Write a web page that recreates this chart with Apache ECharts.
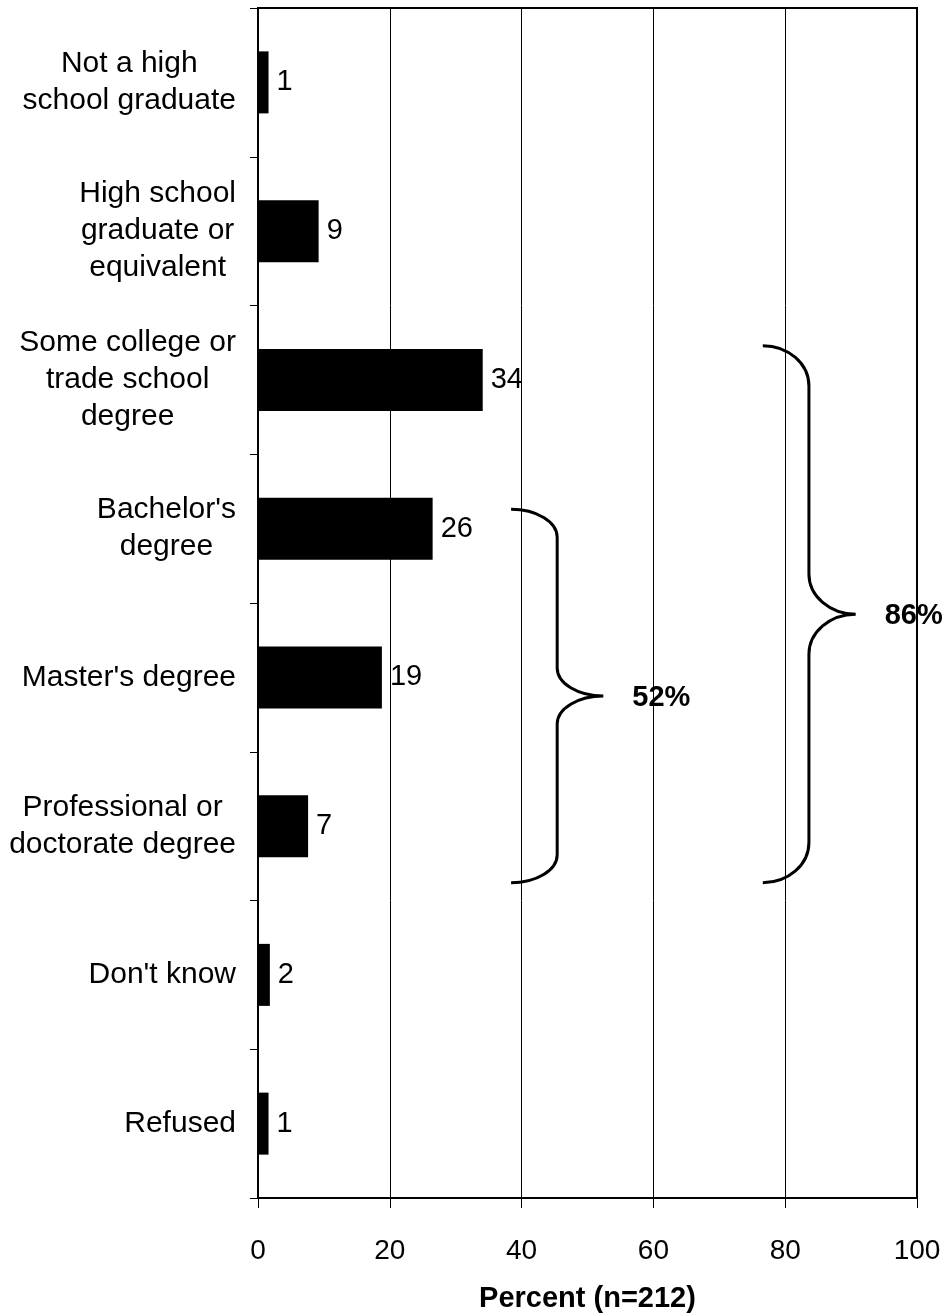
<!DOCTYPE html>
<html>
<head>
<meta charset="utf-8">
<script src="https://cdn.jsdelivr.net/npm/echarts@6/dist/echarts.min.js"></script>
<style>
  html, body { margin: 0; padding: 0; background: #fff; }
  #chart { width: 949px; height: 1313px; }
</style>
</head>
<body>
<div id="chart"></div>
<script>
// ---- Data ----
var categories = [
  'Not a high\nschool graduate',
  'High school\ngraduate or\nequivalent',
  'Some college or\ntrade school\ndegree',
  "Bachelor's\ndegree",
  "Master's degree",
  'Professional or\ndoctorate degree',
  "Don't know",
  'Refused'
];
var values = [1.6, 9.2, 34.1, 26.5, 18.8, 7.6, 1.8, 1.6];
var valueLabels = ['1', '9', '34', '26', '19', '7', '2', '1'];
var xTicks = [0, 20, 40, 60, 80, 100];
var xTitle = 'Percent (n=212)';

// Braces: [x of tips, x of spine, x of point, top (category units), bottom (category units)]
var braceData = [
  [38.4, 45.4, 52.4, 2.87, 5.38],
  [76.6, 83.6, 90.7, 1.77, 5.38]
];
var braceLabels = ['52%', '86%'];

var FONT = '"Liberation Sans", Arial, sans-serif';

var chart = echarts.init(document.getElementById('chart'), null, { renderer: 'canvas' });

function renderBrace(params, api) {
  var xt = api.value(0), xs = api.value(1), xp = api.value(2);
  var yt = api.value(3), yb = api.value(4);
  var pTop = api.coord([xt, yt]);
  var pBot = api.coord([xt, yb]);
  var pS = api.coord([xs, yt]);
  var pP = api.coord([xp, (yt + yb) / 2]);
  var Xt = pTop[0], Yt = pTop[1], Yb = pBot[1], Xs = pS[0], Xp = pP[0], Ym = pP[1];
  var r = (Yb - Yt) * 0.075;
  var k = 0.552;
  var d = 'M' + Xt + ' ' + Yt +
    ' C' + (Xt + k * (Xs - Xt)) + ' ' + Yt + ' ' + Xs + ' ' + (Yt + r * (1 - k)) + ' ' + Xs + ' ' + (Yt + r) +
    ' L' + Xs + ' ' + (Ym - r) +
    ' C' + Xs + ' ' + (Ym - r * (1 - k)) + ' ' + (Xp - k * (Xp - Xs)) + ' ' + Ym + ' ' + Xp + ' ' + Ym +
    ' C' + (Xp - k * (Xp - Xs)) + ' ' + Ym + ' ' + Xs + ' ' + (Ym + r * (1 - k)) + ' ' + Xs + ' ' + (Ym + r) +
    ' L' + Xs + ' ' + (Yb - r) +
    ' C' + Xs + ' ' + (Yb - r * (1 - k)) + ' ' + (Xt + k * (Xs - Xt)) + ' ' + Yb + ' ' + Xt + ' ' + Yb;
  return {
    type: 'group',
    children: [
      {
        type: 'path',
        shape: { pathData: d },
        style: { stroke: '#000', lineWidth: 3, fill: null }
      },
      {
        type: 'text',
        x: Xp + 29,
        y: Ym + 2,
        style: {
          text: braceLabels[params.dataIndex],
          font: 'bold 29px ' + FONT,
          fill: '#000',
          verticalAlign: 'middle',
          align: 'left'
        }
      }
    ]
  };
}

var option = {
  backgroundColor: '#fff',
  animation: false,
  grid: {
    left: 258, right: 32, top: 8, bottom: 115,
    outerBoundsMode: 'none',
    containLabel: false,
    show: true, borderColor: '#000', borderWidth: 2, backgroundColor: 'transparent'
  },
  xAxis: {
    type: 'value',
    min: 0, max: 100, interval: 20,
    name: xTitle,
    nameLocation: 'middle',
    nameGap: 86,
    nameTextStyle: { fontFamily: FONT, fontSize: 29, fontWeight: 'bold', color: '#000' },
    axisLine: { show: true, onZero: false, lineStyle: { color: '#000', width: 2 } },
    axisTick: { show: true, length: 10, lineStyle: { color: '#000', width: 1 } },
    axisLabel: {
      fontFamily: FONT, fontSize: 28, color: '#000', margin: 39,
      formatter: function (v) { return xTicks.indexOf(v) >= 0 ? String(v) : ''; }
    },
    splitLine: { show: true, lineStyle: { color: '#000', width: 1 } }
  },
  yAxis: [
    {
      type: 'category',
      data: categories,
      inverse: true,
      axisLine: { show: true, lineStyle: { color: '#000', width: 2 } },
      axisTick: { show: true, length: 8, lineStyle: { color: '#000', width: 1 } },
      axisLabel: {
        margin: 22,
        fontFamily: FONT, fontSize: 30, color: '#000',
        formatter: function (v) {
          return v.split('\n').map(function (s) { return '{c|' + s + '}'; }).join('\n');
        },
        rich: {
          c: { align: 'center', fontFamily: FONT, fontSize: 30, lineHeight: 37, color: '#000' }
        }
      },
      splitLine: { show: false }
    },
    {
      type: 'value',
      min: -0.5, max: 7.5,
      inverse: true,
      show: false,
      splitLine: { show: false }
    }
  ],
  series: [
    {
      type: 'bar',
      data: values,
      barWidth: 62,
      itemStyle: { color: '#000' },
      label: {
        show: true,
        position: 'right',
        distance: 8,
        fontFamily: FONT, fontSize: 29, color: '#000',
        formatter: function (p) { return valueLabels[p.dataIndex]; }
      },
      z: 3
    },
    {
      type: 'custom',
      yAxisIndex: 1,
      data: braceData,
      encode: { x: [0, 1, 2], y: [3, 4] },
      renderItem: renderBrace,
      clip: false,
      z: 4
    }
  ]
};

chart.setOption(option);
</script>
</body>
</html>
